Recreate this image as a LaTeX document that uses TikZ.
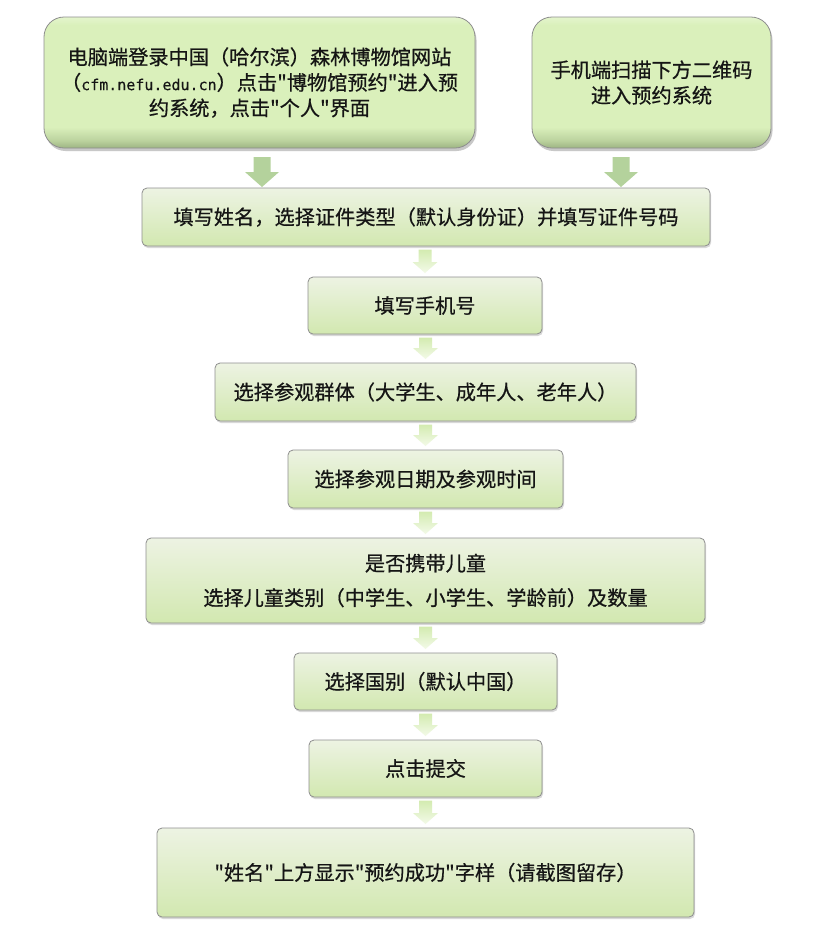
\documentclass[tikz,border=0pt]{standalone}
\usepackage{fontspec}
\setmainfont{Noto Sans CJK SC}
\newfontfamily\cjkfont{Noto Sans CJK SC}[FakeBold=0.6]
\newfontfamily\urlfont{DejaVu Sans Mono}[FakeBold=0.3]
\usetikzlibrary{shadows,calc}
\definecolor{bevbot}{HTML}{9DB583}
\definecolor{bevlow}{HTML}{BCD39F}
\definecolor{bevmid}{HTML}{DAF0BB}
\definecolor{bevtop}{HTML}{E4F5CD}
\definecolor{boxtop}{HTML}{EDF3E3}
\definecolor{boxbot}{HTML}{D2E8B0}
\definecolor{boxline}{HTML}{8E8E8E}
\definecolor{bigarr}{HTML}{B4D29C}
\definecolor{arrtop}{HTML}{D3EBB0}
\definecolor{arrbot}{HTML}{F3FAE8}
\definecolor{txt}{HTML}{151515}
\pgfdeclareverticalshading{bevel}{100bp}{color(0bp)=(bevbot); color(25bp)=(bevbot); color(28bp)=(bevlow); color(33bp)=(bevmid); color(72bp)=(bevmid); color(75bp)=(bevtop); color(100bp)=(bevtop)}
\tikzset{
  topbox/.style={draw=boxline, line width=0.8pt, rounded corners=20pt, shading=bevel,
    inner sep=0pt, outer sep=0pt, align=center, text=txt, font=\cjkfont\fontsize{20.2}{25.5}\selectfont,
    drop shadow={shadow xshift=1.5pt, shadow yshift=-3pt, opacity=0.3, fill=black!70}},
  stepbox/.style={draw=boxline, line width=0.8pt, rounded corners=5pt, top color=boxtop, bottom color=boxbot,
    inner sep=0pt, outer sep=0pt, align=center, text=txt, font=\cjkfont\fontsize{20.2}{25.5}\selectfont,
    drop shadow={shadow xshift=1pt, shadow yshift=-2pt, opacity=0.25, fill=black!60}},
  bigarrow/.style={fill=bigarr, draw=none},
  smallarrow/.style={top color=arrtop, bottom color=arrbot, draw=none}
}
\newcommand\smallarr[2]{%
  \path[smallarrow] let \p1=(#1.south), \p2=(#2.north) in
    (\x2-6.5pt,\y1-3.5pt) -- (\x2+6.5pt,\y1-3.5pt) -- (\x2+6.5pt,\y2+15pt) --
    (\x2+12.5pt,\y2+15pt) -- (\x2,\y2+4pt) -- (\x2-12.5pt,\y2+15pt) --
    (\x2-6.5pt,\y2+15pt) -- cycle;}
\newcommand\bigarr[2]{%
  \path[bigarrow] let \p1=(#1), \p2=(#2) in
    (\x1-8.5pt,\y1-9pt) -- (\x1+8.5pt,\y1-9pt) -- (\x1+8.5pt,\y2+16pt) --
    (\x1+17pt,\y2+16pt) -- (\x1,\y2+1pt) -- (\x1-17pt,\y2+16pt) --
    (\x1-8.5pt,\y2+16pt) -- cycle;}
\begin{document}
\begin{tikzpicture}[x=1pt,y=-1pt]
\fill[white] (0,0) rectangle (840,927);
\useasboundingbox (0,0) rectangle (840,927);

\node[topbox, minimum width=431pt, minimum height=131pt] (pc) at (259.5,82.5)
  {电脑端登录中国（哈尔滨）森林博物馆网站\\（{\urlfont\fontsize{15}{25.5}\selectfont cfm.nefu.edu.cn}）点击"博物馆预约"进入预\\约系统，点击"个人"界面};
\node[topbox, minimum width=239pt, minimum height=131pt] (mob) at (651.5,82.5)
  {手机端扫描下方二维码\\进入预约系统};

\node[stepbox, minimum width=568pt, minimum height=58pt] (name) at (426,217)
  {填写姓名，选择证件类型（默认身份证）并填写证件号码};
\node[stepbox, minimum width=234pt, minimum height=57pt] (phone) at (425,305.5)
  {填写手机号};
\node[stepbox, minimum width=421pt, minimum height=58pt] (group) at (425.5,392)
  {选择参观群体（大学生、成年人、老年人）};
\node[stepbox, minimum width=275pt, minimum height=58pt] (date) at (425.5,479)
  {选择参观日期及参观时间};
\node[stepbox, minimum width=559pt, minimum height=85pt] (kids) at (425.5,580.5)
  {是否携带儿童\\[9pt]选择儿童类别（中学生、小学生、学龄前）及数量};
\node[stepbox, minimum width=263pt, minimum height=57pt] (nation) at (425.5,681.5)
  {选择国别（默认中国）};
\node[stepbox, minimum width=233pt, minimum height=57pt] (submit) at (425.5,768.5)
  {点击提交};
\node[stepbox, minimum width=537pt, minimum height=89pt] (done) at (425.5,872.5)
  {"姓名"上方显示"预约成功"字样（请截图留存）};

\coordinate (pcout) at ($(pc.south)+(2.5,0)$);
\coordinate (mobout) at ($(mob.south)+(-30.5,0)$);
\bigarr{pcout}{name.north}
\bigarr{mobout}{name.north}

\smallarr{name}{phone}
\smallarr{phone}{group}
\smallarr{group}{date}
\smallarr{date}{kids}
\smallarr{kids}{nation}
\smallarr{nation}{submit}
\smallarr{submit}{done}
\end{tikzpicture}
\end{document}
